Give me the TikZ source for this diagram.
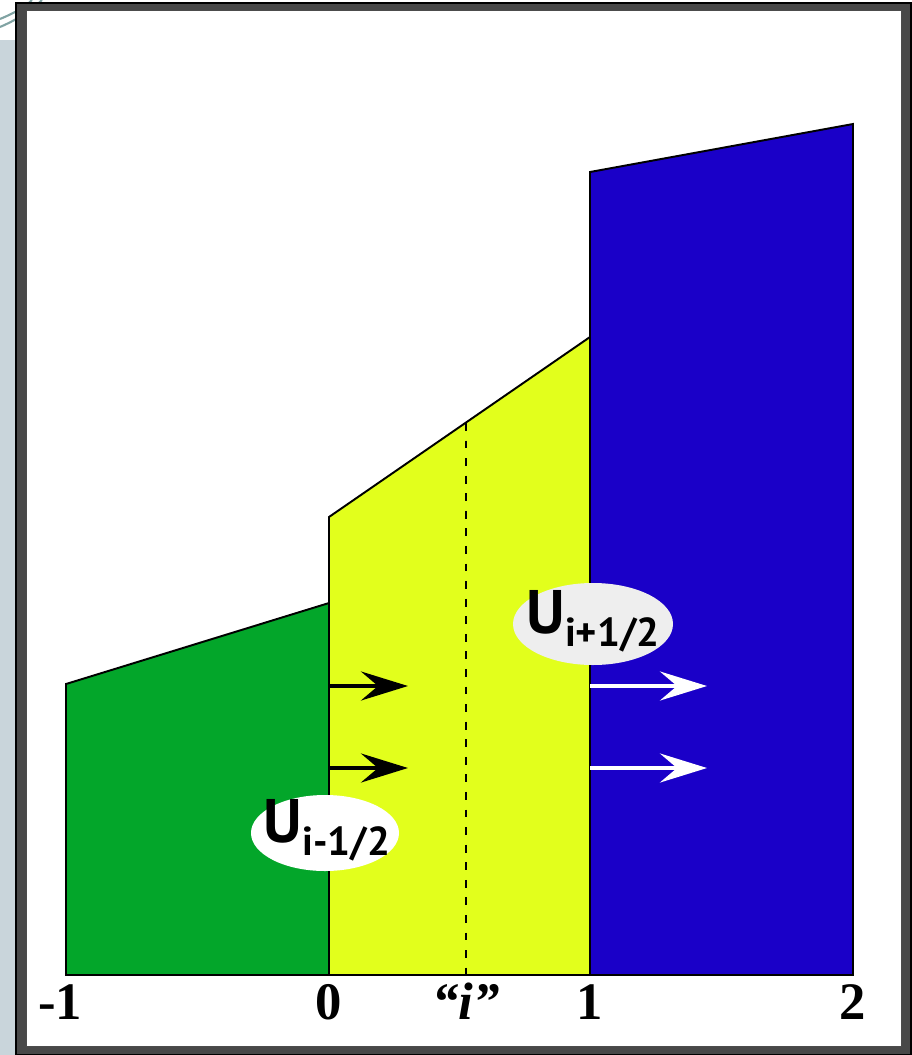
\documentclass[tikz,border=0pt]{standalone}
\usepackage{fontspec}
\setmainfont{Liberation Serif}
\newfontfamily\ufont{PT Sans}
\usepackage{xcolor}
\usetikzlibrary{arrows.meta}

\definecolor{cellgreen}{RGB}{3,166,42}
\definecolor{cellyellow}{RGB}{226,255,28}
\definecolor{cellblue}{RGB}{26,0,200}
\definecolor{slidegrey}{RGB}{201,213,219}
\definecolor{framegrey}{RGB}{72,72,72}
\definecolor{swirl}{RGB}{128,163,163}
\definecolor{bubble}{RGB}{238,238,238}

\tikzset{
  cell/.style={draw=black, line width=1.1pt},
  flux/.style={line width=2.3pt, -{Stealth[length=0.94cm, width=0.58cm, inset=0.34cm]}},
  fluxlab/.style={inner sep=0pt, font=\ufont\bfseries\fontsize{35}{35}\selectfont},
  ticklab/.style={anchor=base, font=\bfseries\fontsize{30}{30}\selectfont},
}
\newcommand{\usub}[1]{U\raisebox{-0.26cm}{\fontsize{23}{23}\selectfont #1}}

\begin{document}
\begin{tikzpicture}[x=0.02cm, y=-0.02cm]
  \useasboundingbox (0,0) rectangle (912,1055);
  % ---- slide background and frame ----
  \fill[slidegrey] (0,40) rectangle (16,1055);
  \draw[swirl, line width=1.2pt] (0,27) .. controls (14,21) and (30,12) .. (42,0);
  \draw[swirl, line width=1.2pt] (0,19) .. controls (12,14) and (24,8) .. (32,0);
  \fill[framegrey, draw=black, line width=0.8pt] (16,3) rectangle (911,1055);
  \fill[white, draw=black!70, line width=0.5pt] (26,10) rectangle (901,1046);

  % ---- cells i-1, i, i+1 ----
  \fill[cellgreen, cell] (66,975) -- (66,684) -- (329,603) -- (329,975) -- cycle;
  \fill[cellyellow, cell] (329,975) -- (329,517) -- (590,337) -- (590,975) -- cycle;
  \fill[cellblue, cell] (590,975) -- (590,172) -- (853,124) -- (853,975) -- cycle;
  \draw[line width=0.85pt, dash pattern=on 4.5pt off 5.5pt] (466,423) -- (466,975);

  % ---- fluxes at the faces ----
  \foreach \y in {686, 768} {
    \coordinate (lf\y) at (329,\y);
    \coordinate (lt\y) at (408,\y);
    \draw[flux, black] (lf\y) -- (lt\y);
    \coordinate (rf\y) at (590,\y);
    \coordinate (rt\y) at (707,\y);
    \draw[flux, white] (rf\y) -- (rt\y);
  }

  % ---- interface values ----
  \fill[white] (325,833) ellipse [x radius=74, y radius=38];
  \node[fluxlab] (uminus) at (327,830) {\usub{i-1/2}};
  \fill[bubble] (593,624) ellipse [x radius=80, y radius=41];
  \node[fluxlab] (uplus) at (593,621) {\usub{i+1/2}};

  % ---- axis labels ----
  \foreach \x/\lab in {60/{-1}, 329/{0}, 590/{1}, 853/{2}} {
    \node[ticklab] (x\x) at (\x,1019) {\lab};
  }
  \node[ticklab, font=\bfseries\itshape\fontsize{30}{30}\selectfont] (xi) at (466,1019) {“i”};
\end{tikzpicture}
\end{document}
